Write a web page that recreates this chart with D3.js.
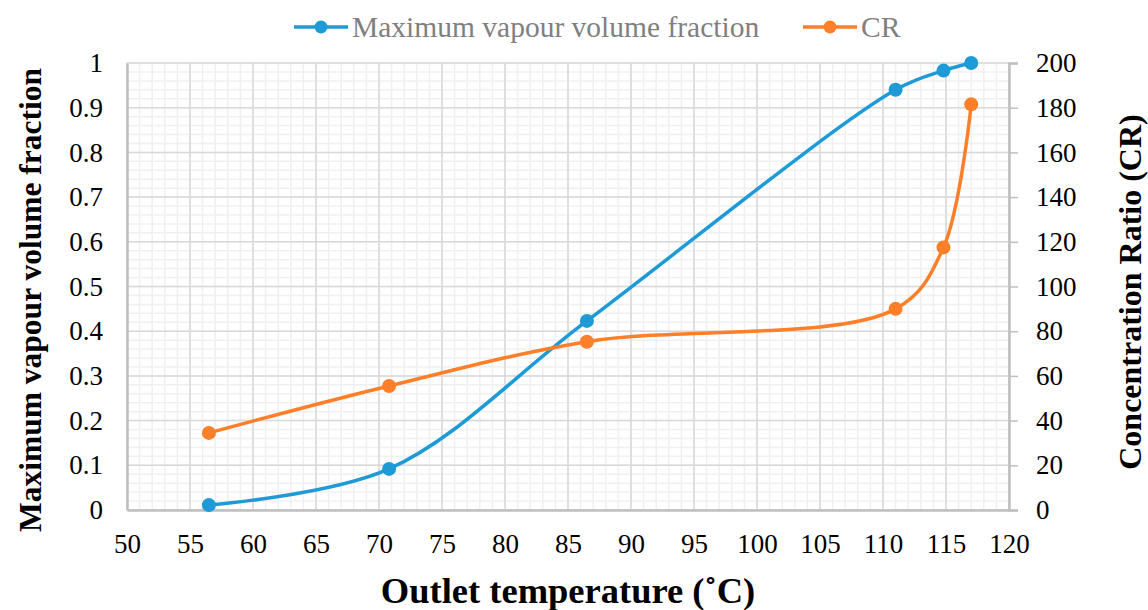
<!DOCTYPE html>
<html><head><meta charset="utf-8">
<script src="https://cdn.jsdelivr.net/npm/d3@7/dist/d3.min.js"></script>
<style>html,body{margin:0;padding:0;background:#fff;}</style>
</head><body>
<svg id="c" width="1148" height="610"></svg>
<script>
const temps = [56.5, 70.8, 86.5, 111.0, 114.8, 117.0];
const vapourFraction = [0.011, 0.092, 0.423, 0.940, 0.983, 1.0];
const concentrationRatio = [34.5, 55.5, 75.3, 90.0, 117.5, 181.5];
const xTicks = [50,55,60,65,70,75,80,85,90,95,100,105,110,115,120];
const yLeftTicks = [0,0.1,0.2,0.3,0.4,0.5,0.6,0.7,0.8,0.9,1];
const yRightTicks = [0,20,40,60,80,100,120,140,160,180,200];
const seriesNames = ["Maximum vapour volume fraction", "CR"];
const colors = ["#1e9ad6", "#fd7f29"];

const svg = d3.select("#c");
const L = 127, R = 1009, T = 63, B = 510;
const x = d3.scaleLinear().domain([50,120]).range([L,R]);
const yL = d3.scaleLinear().domain([0,1]).range([B,T]);
const yR = d3.scaleLinear().domain([0,200]).range([B,T]);
const font = "'Liberation Serif','Times New Roman',serif";

// minor grid
const g = svg.append("g");
g.selectAll(".mx").data(d3.range(50,121,1)).enter().append("line")
  .attr("x1",d=>x(d)).attr("x2",d=>x(d)).attr("y1",T).attr("y2",B)
  .attr("stroke","#f0f0f0").attr("stroke-width",1.5);
g.selectAll(".my").data(d3.range(0,51,1).map(i=>i*0.02)).enter().append("line")
  .attr("x1",L).attr("x2",R).attr("y1",d=>yL(d)).attr("y2",d=>yL(d))
  .attr("stroke","#f0f0f0").attr("stroke-width",1.5);
// major grid
g.selectAll(".Mx").data(xTicks).enter().append("line")
  .attr("x1",d=>x(d)).attr("x2",d=>x(d)).attr("y1",T).attr("y2",B)
  .attr("stroke","#d9d9d9").attr("stroke-width",1.5);
g.selectAll(".My").data(yLeftTicks).enter().append("line")
  .attr("x1",L).attr("x2",R).attr("y1",d=>yL(d)).attr("y2",d=>yL(d))
  .attr("stroke","#d9d9d9").attr("stroke-width",1.5);

// axes
const axB = svg.append("g").attr("transform",`translate(0,${B})`)
  .call(d3.axisBottom(x).tickValues(xTicks).tickSize(0).tickPadding(24).tickFormat(d3.format("d")));
const axL = svg.append("g").attr("transform",`translate(${L},0)`)
  .call(d3.axisLeft(yL).tickValues(yLeftTicks).tickSize(0).tickPadding(24).tickFormat(d=>d===0?"0":d===1?"1":d3.format(".1f")(d)));
const axR = svg.append("g").attr("transform",`translate(${R},0)`)
  .call(d3.axisRight(yR).tickValues(yRightTicks).tickSize(9).tickPadding(18).tickFormat(d3.format("d")));
[axB,axL,axR].forEach(a=>{
  a.attr("font-family",null).attr("font-size",null);
  a.select(".domain").attr("stroke","#bfbfbf").attr("stroke-width",2.5);
  a.selectAll(".tick line").attr("stroke","#bfbfbf").attr("stroke-width",1.5);
  a.selectAll("text").style("font-family",font).style("font-size","27px").attr("fill","#000");
});

// series
const ys = [yL, yR];
const data = [vapourFraction, concentrationRatio];
data.forEach((vals,i)=>{
  const pts = temps.map((t,j)=>[t, vals[j]]);
  const line = d3.line().x(d=>x(d[0])).y(d=>ys[i](d[1])).curve(d3.curveCatmullRom.alpha(0.5));
  svg.append("path").attr("d",line(pts)).attr("fill","none")
    .attr("stroke",colors[i]).attr("stroke-width",3.5);
  svg.selectAll(".p"+i).data(pts).enter().append("circle")
    .attr("cx",d=>x(d[0])).attr("cy",d=>ys[i](d[1])).attr("r",7).attr("fill",colors[i]);
});

// legend
const leg = [{x0:294, name:seriesNames[0]}, {x0:803, name:seriesNames[1]}];
leg.forEach((l,i)=>{
  const lg = svg.append("g");
  lg.append("line").attr("x1",l.x0).attr("x2",l.x0+54).attr("y1",27).attr("y2",27)
    .attr("stroke",colors[i]).attr("stroke-width",3.5);
  lg.append("circle").attr("cx",l.x0+27).attr("cy",27).attr("r",6.5).attr("fill",colors[i]);
  lg.append("text").attr("x",l.x0+58).attr("y",37).text(l.name)
    .style("font-family",font).style("font-size","29.5px").attr("fill","#7f7f7f");
});

// axis titles
svg.append("text").attr("x",(L+R)/2).attr("y",603).attr("text-anchor","middle")
  .style("font-family",font).attr("font-weight","bold").style("font-size","36.5px").text("Outlet temperature (\u02DAC)");
svg.append("text").attr("transform","translate(41,300) rotate(-90)").attr("text-anchor","middle")
  .style("font-family",font).attr("font-weight","bold").style("font-size","31.5px").text("Maximum vapour volume fraction");
svg.append("text").attr("transform","translate(1141,292) rotate(-90)").attr("text-anchor","middle")
  .style("font-family",font).attr("font-weight","bold").style("font-size","32px").text("Concentration Ratio (CR)");
</script>
</body></html>
